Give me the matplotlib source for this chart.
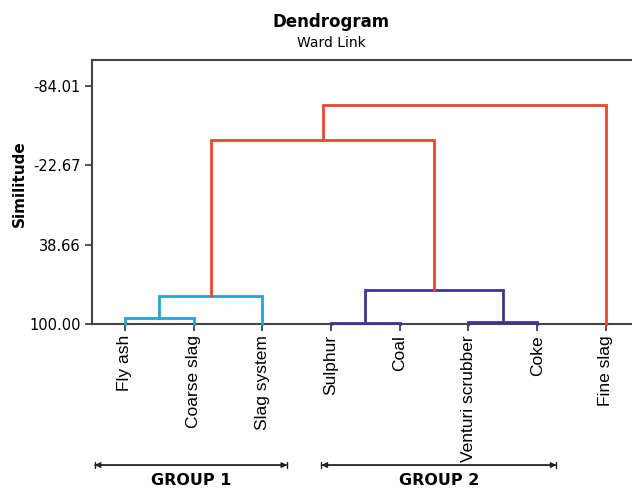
import matplotlib.pyplot as plt

# leaves in drawing order
leaves = ["Fly ash", "Coarse slag", "Slag system", "Sulphur", "Coal",
          "Venturi scrubber", "Coke", "Fine slag"]

# merges: (left node, right node, similitude level, colour)
# nodes 0..7 are leaves, 8.. are clusters made in this order
merges = [
    (0, 1, 95.4, "#1EA7D6"),
    (8, 2, 78.4, "#1EA7D6"),
    (3, 4, 99.2, "#3D3595"),
    (5, 6, 98.5, "#3D3595"),
    (10, 11, 73.8, "#3D3595"),
    (9, 12, -42.0, "#E64A2E"),
    (13, 7, -69.7, "#E64A2E"),
]

yticks = [-84.01, -22.67, 38.66, 100.00]
groups = [("GROUP 1", -0.44, 2.36), ("GROUP 2", 2.86, 6.28)]

fig = plt.figure(figsize=(6.32, 4.88), dpi=100)
ax = fig.add_axes([0.1456, 0.336, 0.8544, 0.541])

# leaf level is 100 (bottom)
pos = {i: (i, 100.0) for i in range(len(leaves))}
n = len(leaves)
for k, (a, b, h, c) in enumerate(merges):
    xa, ya = pos[a]
    xb, yb = pos[b]
    ax.plot([xa, xa, xb, xb], [ya, h, h, yb], color=c, lw=2,
            solid_joinstyle="miter", clip_on=False, zorder=3)
    pos[n + k] = ((xa + xb) / 2, h)

ax.set_xlim(-0.48, 7.38)
ax.set_ylim(100, -104.1)
ax.set_yticks(yticks)
ax.set_yticklabels(["%.2f" % v for v in yticks], fontsize=10.5)
ax.set_xticks(range(n))
ax.set_xticklabels(leaves, rotation=90, fontsize=12.5, family="Liberation Sans")
ax.tick_params(axis="both", length=5, width=1.2, color="#333333", pad=3)

for s in ["left", "top", "bottom"]:
    ax.spines[s].set_color("#444444")
    ax.spines[s].set_linewidth(1.5)
ax.spines["right"].set_visible(False)

ax.set_ylabel("Similitude", fontsize=11, fontweight="bold")
ax.yaxis.set_label_coords(-0.12, 0.53)
fig.text(0.524, 0.955, "Dendrogram", ha="center", va="center",
         fontsize=12, fontweight="bold")
fig.text(0.524, 0.912, "Ward Link", ha="center", va="center", fontsize=10)

# group brackets under the labels
for name, x0, x1 in groups:
    for style in ["<|-|>", "|-|,widthA=0.25,widthB=0.25"]:
        ax.annotate("", xy=(x0, 0.047), xytext=(x1, 0.047),
                    xycoords=("data", "figure fraction"),
                    textcoords=("data", "figure fraction"),
                    arrowprops=dict(arrowstyle=style, color="#222222", lw=1,
                                    shrinkA=0, shrinkB=0, mutation_scale=8))
    ax.annotate(name, xy=((x0 + x1) / 2, 0.015), xycoords=("data", "figure fraction"),
                ha="center", va="center", fontsize=11.5, fontweight="bold")

fig.savefig("out.png", dpi=100)
